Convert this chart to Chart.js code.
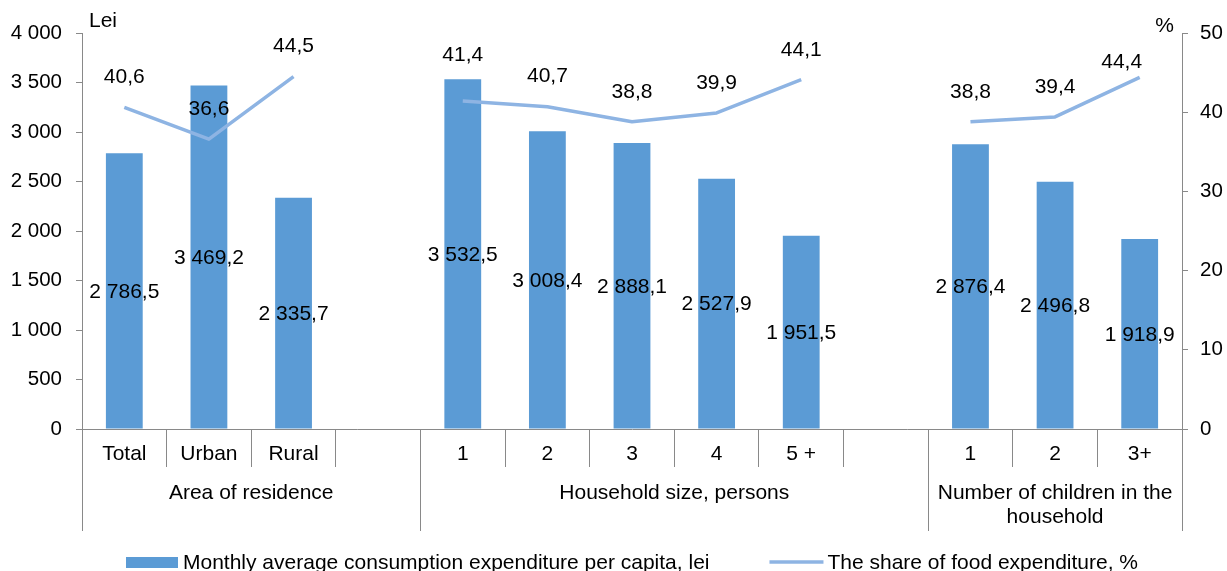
<!DOCTYPE html>
<html>
<head>
<meta charset="utf-8">
<script src="https://cdn.jsdelivr.net/npm/chart.js@4"></script>
<style>
  html, body { margin: 0; padding: 0; background: #fff; }
  #wrap { width: 1227px; height: 571px; position: relative; }
</style>
</head>
<body>
<div id="wrap"><canvas id="chart"></canvas></div>
<script>
// --- Data ---
// empty labels are the spacer columns between the groups
const categories = ['Total', 'Urban', 'Rural', '', '1', '2', '3', '4', '5 +', '', '1', '2', '3+'];
const groupNames = [['Area of residence'], ['Household size, persons'], ['Number of children in the', 'household']];
const groupStart = [0, 4, 10];
const groupEnd = [3, 9, 12];
const expenditure = [2786.5, 3469.2, 2335.7, null, 3532.5, 3008.4, 2888.1, 2527.9, 1951.5, null, 2876.4, 2496.8, 1918.9];
const foodShare = [40.6, 36.6, 44.5, null, 41.4, 40.7, 38.8, 39.9, 44.1, null, 38.8, 39.4, 44.4];
const leiTicks = [0, 500, 1000, 1500, 2000, 2500, 3000, 3500, 4000];
const percentTicks = [0, 10, 20, 30, 40, 50];
const seriesNames = ['Monthly average consumption expenditure per capita, lei', 'The share of food expenditure, %'];

// --- Style ---
const FONT = "'Liberation Sans', Arial, sans-serif";
const barColor = '#5B9BD5';
const lineColor = '#8EB4E3';
const axisGray = '#898989';
const textColor = '#000';
// line labels sit 30px above the point; a couple were moved by hand in the original
const labelNudge = { 4: { dx: 0, lift: 46 }, 12: { dx: -18, lift: 15 } };

Chart.defaults.font.family = FONT;
Chart.defaults.font.size = 21;
Chart.defaults.color = textColor;

// "2786.5" -> "2 786,5"
const fmt = (v, dec) => {
    const [i, d] = v.toFixed(dec).split('.');
    return i.replace(/\B(?=(\d{3})+(?!\d))/g, ' ') + (d ? ',' + d : '');
};

const useTicks = list => scale => { scale.ticks = list.map(v => ({ value: v })); };

// boundary between category i and i+1 (in pixels)
const boundary = (x, i) => {
    if (i < 0) return x.left;
    if (i >= categories.length - 1) return x.right;
    return (x.getPixelForValue(i) + x.getPixelForValue(i + 1)) / 2;
};

const decorPlugin = {
    id: 'decor',
    afterDraw(chart) {
        const { ctx, chartArea, scales: { x } } = chart;
        const bottom = chartArea.bottom;
        ctx.save();

        // group separators below the axis
        ctx.strokeStyle = axisGray;
        ctx.lineWidth = 1;
        const cuts = new Set([boundary(x, -1)]);
        groupEnd.forEach(e => cuts.add(boundary(x, e)));
        cuts.forEach(px => {
            const p = Math.round(px) + 0.5;
            ctx.beginPath();
            ctx.moveTo(p, bottom);
            ctx.lineTo(p, bottom + 102);
            ctx.stroke();
        });

        // group names
        ctx.font = `21px ${FONT}`;
        ctx.fillStyle = textColor;
        ctx.textAlign = 'center';
        ctx.textBaseline = 'middle';
        groupNames.forEach((lines, g) => {
            const cx = (boundary(x, groupStart[g] - 1) + boundary(x, groupEnd[g])) / 2;
            lines.forEach((t, k) => ctx.fillText(t, cx, bottom + 64 + k * 24));
        });

        // bar values, centred in the bar
        const barMeta = chart.getDatasetMeta(0);
        barMeta.data.forEach((bar, i) => {
            if (expenditure[i] == null) return;
            ctx.fillText(fmt(expenditure[i], 1), bar.x, (bar.y + bar.base) / 2 + 1);
        });

        // line values above the points
        const lineMeta = chart.getDatasetMeta(1);
        lineMeta.data.forEach((pt, i) => {
            if (foodShare[i] == null) return;
            const n = labelNudge[i] || { dx: 0, lift: 30 };
            ctx.fillText(fmt(foodShare[i], 1), pt.x + n.dx, pt.y - n.lift);
        });

        // axis units
        ctx.textAlign = 'left';
        ctx.fillText('Lei', chartArea.left + 7, 21);
        ctx.textAlign = 'right';
        ctx.fillText('%', chartArea.right - 8, 26);

        // legend
        const legendY = chart.height - 9;
        const w1 = ctx.measureText(seriesNames[0]).width;
        const w2 = ctx.measureText(seriesNames[1]).width;
        const total = 52 + 5 + w1 + 60 + 54 + 4 + w2;
        let lx = (chartArea.left + chartArea.right) / 2 - total / 2;
        ctx.fillStyle = barColor;
        ctx.fillRect(lx, legendY - 5, 52, 11);
        ctx.fillStyle = textColor;
        ctx.textAlign = 'left';
        ctx.fillText(seriesNames[0], lx + 57, legendY + 1);
        lx += 52 + 5 + w1 + 60;
        ctx.strokeStyle = lineColor;
        ctx.lineWidth = 3.5;
        ctx.beginPath();
        ctx.moveTo(lx, legendY);
        ctx.lineTo(lx + 54, legendY);
        ctx.stroke();
        ctx.fillText(seriesNames[1], lx + 58, legendY + 1);

        ctx.restore();
    }
};

new Chart(document.getElementById('chart'), {
    type: 'bar',
    data: {
        labels: categories,
        datasets: [
            {
                type: 'bar',
                label: seriesNames[0],
                data: expenditure,
                backgroundColor: barColor,
                borderWidth: 0,
                categoryPercentage: 1,
                barPercentage: 0.435,
                yAxisID: 'y',
                order: 1
            },
            {
                type: 'line',
                label: seriesNames[1],
                data: foodShare,
                borderColor: lineColor,
                borderWidth: 3.5,
                pointRadius: 0,
                tension: 0,
                spanGaps: false,
                borderJoinStyle: 'round',
                yAxisID: 'y1',
                order: 0
            }
        ]
    },
    options: {
        responsive: true,
        maintainAspectRatio: false,
        animation: false,
        layout: { padding: { top: 33, left: 0, right: 0, bottom: 0 } },
        plugins: {
            legend: { display: false },
            tooltip: { enabled: false }
        },
        scales: {
            x: {
                offset: true,
                grid: { display: true, offset: true, drawOnChartArea: false, drawTicks: true, tickLength: 38, color: axisGray },
                border: { display: true, color: axisGray },
                ticks: { padding: -25, autoSkip: false, maxRotation: 0, color: textColor },
                afterFit: s => { s.height = 142; }
            },
            y: {
                position: 'left',
                min: 0,
                max: 4000,
                afterBuildTicks: useTicks(leiTicks),
                ticks: { padding: 14, color: textColor, font: { size: 20.5 }, callback: v => fmt(v, 0) },
                grid: { drawOnChartArea: false, tickLength: 6, color: axisGray },
                border: { color: axisGray },
                afterFit: s => { s.width = 82; }
            },
            y1: {
                position: 'right',
                min: 0,
                max: 50,
                afterBuildTicks: useTicks(percentTicks),
                ticks: { padding: 12, color: textColor, font: { size: 20.5 } },
                grid: { drawOnChartArea: false, tickLength: 6, color: axisGray },
                border: { color: axisGray },
                afterFit: s => { s.width = 45; }
            }
        }
    },
    plugins: [decorPlugin]
});
</script>
</body>
</html>
